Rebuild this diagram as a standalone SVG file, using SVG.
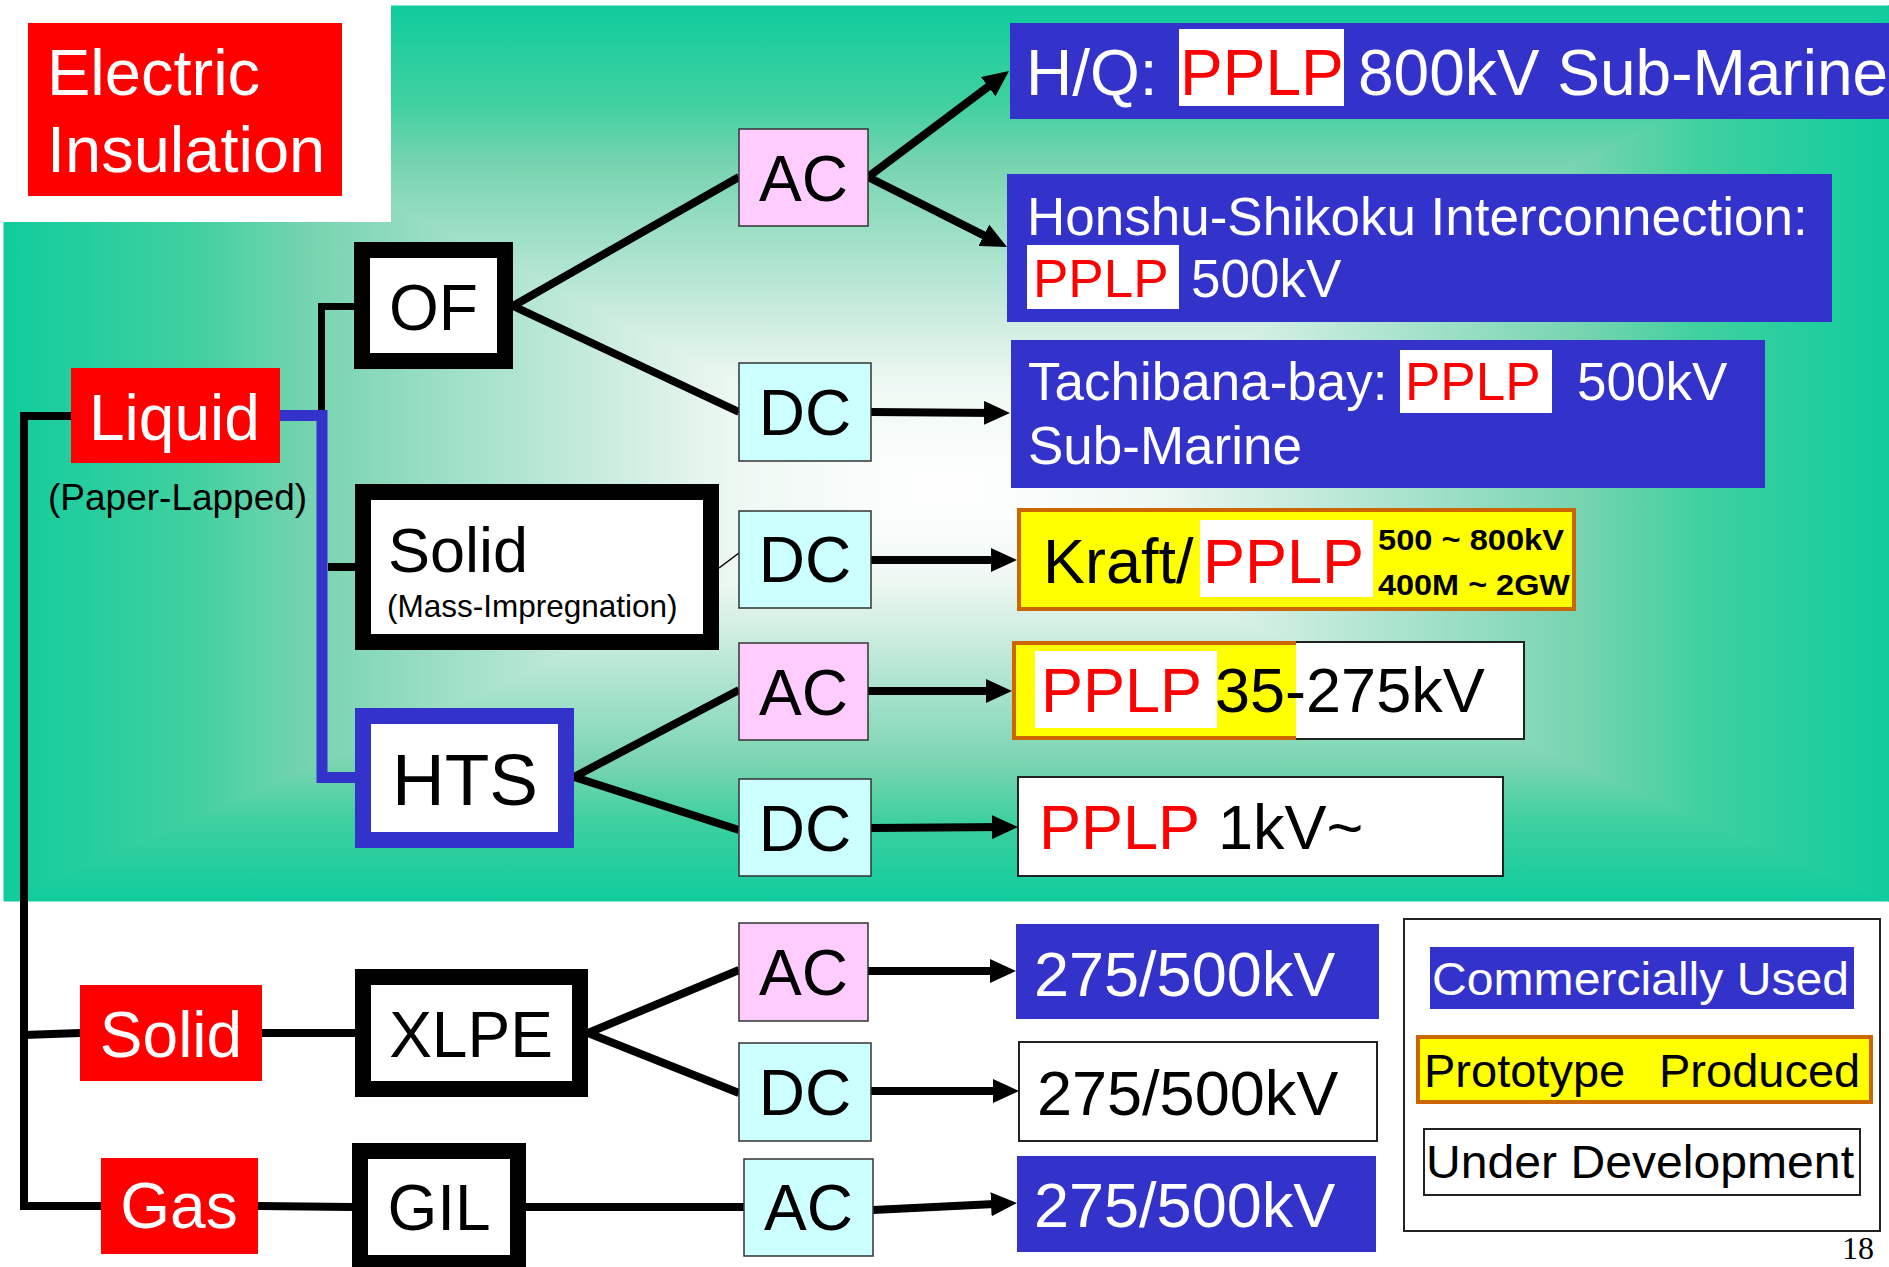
<svg xmlns="http://www.w3.org/2000/svg" width="1889" height="1267" viewBox="0 0 1889 1267">
<style>
text{font-family:"Liberation Sans",Arial,sans-serif}
text.serif{font-family:"Liberation Serif","Times New Roman",serif}
.w{fill:#FFFFFF}
.k{fill:#000000}
.r{fill:#FF0000}
.red{fill:#FF0000}
.blue{fill:#3333CC}
.ac{fill:#FFCCFF;stroke:#333333;stroke-width:1.5}
.dc{fill:#CCFFFF;stroke:#333333;stroke-width:1.5}
.wb{fill:#FFFFFF;stroke:#222222;stroke-width:2}
.yb{fill:#FFFF00;stroke:#CC6600;stroke-width:4}
.ln{fill:none;stroke:#000000;stroke-width:8}
.ar{fill:none;stroke:#000000;stroke-width:8;marker-end:url(#ah)}
.t64{font-size:64px}
.t53{font-size:53px}
.t47{font-size:47px}
</style>
<defs>
<linearGradient id="gT" gradientUnits="userSpaceOnUse" x1="0" y1="490" x2="0" y2="6">
<stop offset="0" stop-color="#FFFFFF"/>
<stop offset="0.1" stop-color="#F8FCFA"/>
<stop offset="0.22" stop-color="#EEF8F3"/>
<stop offset="0.31" stop-color="#D8F0E6"/>
<stop offset="0.52" stop-color="#A0E0C8"/>
<stop offset="0.67" stop-color="#78D4B0"/>
<stop offset="0.8" stop-color="#40D0A0"/>
<stop offset="1" stop-color="#10CC9C"/>
</linearGradient>
<linearGradient id="gB" href="#gT" gradientUnits="userSpaceOnUse" x1="0" y1="490" x2="0" y2="901"/>
<linearGradient id="gL" href="#gT" gradientUnits="userSpaceOnUse" x1="946" y1="0" x2="4" y2="0"/>
<linearGradient id="gR" href="#gT" gradientUnits="userSpaceOnUse" x1="946" y1="0" x2="1889" y2="0"/>
<marker id="ah" markerUnits="userSpaceOnUse" markerWidth="26" markerHeight="24" viewBox="0 0 26 24" refX="14" refY="12" orient="auto">
<path d="M0,0 L26,12 L0,24 z" fill="#000000"/>
</marker>
</defs>

<g id="background">
<rect x="0" y="0" width="1889" height="1267" fill="#FFFFFF"/>
<polygon points="4,6 1889,6 946,490" fill="url(#gT)" stroke="url(#gT)" stroke-width="1"/>
<polygon points="4,901 1889,901 946,490" fill="url(#gB)" stroke="url(#gB)" stroke-width="1"/>
<polygon points="4,6 4,901 946,490" fill="url(#gL)" stroke="url(#gL)" stroke-width="1"/>
<polygon points="1889,6 1889,901 946,490" fill="url(#gR)" stroke="url(#gR)" stroke-width="1"/>
<rect x="0" y="0" width="391" height="222" fill="#FFFFFF"/>
</g>

<g id="connectors">
<path class="ln" d="M71,416 H24 V1206 H101" stroke-linejoin="miter"/>
<path class="ln" d="M24,1035 L80,1033"/>
<path d="M321.5,411 V306.5 H355" fill="none" stroke="#000000" stroke-width="7"/>
<path d="M280,415.5 H322 V777.5 H355" fill="none" stroke="#3333CC" stroke-width="11"/>
<path class="ln" d="M328,567 H355"/>
<path class="ln" d="M513,306 L739,177"/>
<path class="ln" d="M513,306 L739,412"/>
<path d="M719,568 L739,553" fill="none" stroke="#000000" stroke-width="1.5"/>
<path class="ln" d="M574,777 L739,690"/>
<path class="ln" d="M574,777 L739,830"/>
<path class="ln" d="M262,1033 L355,1033"/>
<path class="ln" d="M588,1033 L739,970"/>
<path class="ln" d="M588,1033 L739,1093"/>
<path class="ln" d="M258,1206 L352,1207"/>
<path class="ln" d="M526,1207 L744,1207"/>
<path class="ar" d="M868,177 L999.4,78.2"/>
<path class="ar" d="M868,177 L996.3,241.6"/>
<path class="ar" d="M871,412 L998,413"/>
<path class="ar" d="M871,560 L1005,560"/>
<path class="ar" d="M868,691 L1000,691"/>
<path class="ar" d="M871,828 L1006,827"/>
<path class="ar" d="M868,971 L1004,971"/>
<path class="ar" d="M871,1091 L1007,1091"/>
<path class="ar" d="M873,1210 L1005,1203.6"/>
</g>

<g id="title">
<rect x="28" y="23" width="314" height="173" class="red"/>
<text x="47" y="95" class="w" font-size="65">Electric</text>
<text x="47" y="172" class="w" font-size="65">Insulation</text>
</g>

<g id="liquid">
<rect x="71" y="368" width="209" height="95" class="red"/>
<text x="89" y="440" class="w" font-size="64">Liquid</text>
<text x="48" y="510" class="k" font-size="37">(Paper-Lapped)</text>
</g>

<g id="of">
<rect x="362" y="250" width="143" height="111" fill="#FFFFFF" stroke="#000000" stroke-width="16"/>
<text x="433.5" y="330" class="k t64" text-anchor="middle">OF</text>
</g>

<g id="solid-mi">
<rect x="363" y="492" width="348" height="150" fill="#FFFFFF" stroke="#000000" stroke-width="16"/>
<text x="388" y="572" class="k" font-size="63">Solid</text>
<text x="387" y="617" class="k" font-size="31.5">(Mass-Impregnation)</text>
</g>

<g id="hts">
<rect x="363" y="716" width="203" height="124" fill="#FFFFFF" stroke="#3333CC" stroke-width="16"/>
<text x="465" y="805" class="k" font-size="73" text-anchor="middle">HTS</text>
</g>

<g id="solid">
<rect x="80" y="985" width="182" height="96" class="red"/>
<text x="171" y="1057" class="w t64" text-anchor="middle">Solid</text>
</g>

<g id="xlpe">
<rect x="363" y="977" width="217" height="112" fill="#FFFFFF" stroke="#000000" stroke-width="16"/>
<text x="471" y="1057" class="k t64" text-anchor="middle">XLPE</text>
</g>

<g id="gas">
<rect x="101" y="1158" width="157" height="96" class="red"/>
<text x="179" y="1228" class="w t64" text-anchor="middle">Gas</text>
</g>

<g id="gil">
<rect x="360" y="1151" width="158" height="112" fill="#FFFFFF" stroke="#000000" stroke-width="16"/>
<text x="439" y="1230" class="k t64" text-anchor="middle">GIL</text>
</g>

<g id="ac1"><rect x="739" y="129" width="129" height="97" class="ac"/><text x="803.5" y="201" class="k t64" text-anchor="middle">AC</text></g>
<g id="dc1"><rect x="739" y="363" width="132" height="98" class="dc"/><text x="805" y="435" class="k t64" text-anchor="middle">DC</text></g>
<g id="dc2"><rect x="739" y="511" width="132" height="97" class="dc"/><text x="805" y="582" class="k t64" text-anchor="middle">DC</text></g>
<g id="ac2"><rect x="739" y="643" width="129" height="97" class="ac"/><text x="803.5" y="715" class="k t64" text-anchor="middle">AC</text></g>
<g id="dc3"><rect x="739" y="779" width="132" height="97" class="dc"/><text x="805" y="851" class="k t64" text-anchor="middle">DC</text></g>
<g id="ac3"><rect x="739" y="923" width="129" height="98" class="ac"/><text x="803.5" y="995" class="k t64" text-anchor="middle">AC</text></g>
<g id="dc4"><rect x="739" y="1043" width="132" height="98" class="dc"/><text x="805" y="1115" class="k t64" text-anchor="middle">DC</text></g>
<g id="ac4"><rect x="744" y="1159" width="129" height="97" class="dc"/><text x="808.5" y="1230" class="k t64" text-anchor="middle">AC</text></g>

<g id="hq">
<rect x="1010" y="23" width="890" height="96" class="blue"/>
<text x="1026" y="95" class="w" font-size="64">H/Q:</text>
<rect x="1179" y="29" width="165" height="77" fill="#FFFFFF"/>
<text x="1180" y="95" class="r" font-size="64">PPLP</text>
<text x="1358" y="95" class="w" font-size="64">800kV Sub-Marine</text>
</g>

<g id="honshu">
<rect x="1007" y="174" width="825" height="148" class="blue"/>
<text x="1027" y="235" class="w t53">Honshu-Shikoku Interconnection:</text>
<rect x="1027" y="245" width="152" height="64" fill="#FFFFFF"/>
<text x="1033" y="297" class="r t53">PPLP</text>
<text x="1191" y="297" class="w t53">500kV</text>
</g>

<g id="tachibana">
<rect x="1011" y="340" width="754" height="148" class="blue"/>
<text x="1028" y="400" class="w t53">Tachibana-bay:</text>
<rect x="1400" y="350" width="152" height="63" fill="#FFFFFF"/>
<text x="1405" y="400" class="r t53">PPLP</text>
<text x="1577" y="400" class="w t53">500kV</text>
<text x="1028" y="464" class="w t53">Sub-Marine</text>
</g>

<g id="kraft">
<rect x="1019" y="510" width="555" height="99" class="yb"/>
<text x="1043" y="583" class="k" font-size="63">Kraft/</text>
<rect x="1200" y="520" width="173" height="77" fill="#FFFFFF"/>
<text x="1203" y="583" class="r" font-size="63">PPLP</text>
<text x="1378" y="550" class="k" font-size="30" font-weight="bold" textLength="186" lengthAdjust="spacingAndGlyphs">500 ~ 800kV</text>
<text x="1378" y="595" class="k" font-size="30" font-weight="bold" textLength="192" lengthAdjust="spacingAndGlyphs">400M ~ 2GW</text>
</g>

<g id="pplp35">
<rect x="1013" y="642" width="511" height="97" class="wb"/>
<rect x="1014" y="643" width="282" height="95" fill="#FFFF00"/>
<path d="M1296,643 H1014 V738 H1296" fill="none" stroke="#CC6600" stroke-width="4"/>
<rect x="1035" y="651" width="182" height="77" fill="#FFFFFF"/>
<text x="1041" y="712" class="r" font-size="63">PPLP</text>
<text x="1215" y="712" class="k" font-size="63">35-275kV</text>
</g>

<g id="pplp1kv">
<rect x="1018" y="777" width="485" height="99" class="wb"/>
<text x="1039" y="849" class="r" font-size="63">PPLP</text>
<text x="1218" y="849" class="k" font-size="63">1kV~</text>
</g>

<g id="xlpe-ac">
<rect x="1016" y="924" width="363" height="95" class="blue"/>
<text x="1034" y="996" class="w" font-size="63">275/500kV</text>
</g>
<g id="xlpe-dc">
<rect x="1019" y="1042" width="358" height="99" class="wb"/>
<text x="1037" y="1115" class="k" font-size="63">275/500kV</text>
</g>
<g id="gil-ac">
<rect x="1017" y="1156" width="359" height="96" class="blue"/>
<text x="1034" y="1227" class="w" font-size="63">275/500kV</text>
</g>

<g id="legend">
<rect x="1404" y="919" width="476" height="312" class="wb"/>
<rect x="1430" y="947" width="424" height="62" class="blue"/>
<text x="1432" y="995" class="w t47" textLength="417" lengthAdjust="spacingAndGlyphs">Commercially Used</text>
<rect x="1418" y="1037" width="453" height="65" class="yb"/>
<text x="1424" y="1087" class="k t47">Prototype</text>
<text x="1659" y="1087" class="k t47">Produced</text>
<rect x="1424" y="1129" width="436" height="66" class="wb"/>
<text x="1426" y="1178" class="k t47" textLength="428" lengthAdjust="spacingAndGlyphs">Under Development</text>
</g>

<g id="page-number">
<text x="1842" y="1259" class="serif" font-size="32" fill="#000000">18</text>
</g>
</svg>
